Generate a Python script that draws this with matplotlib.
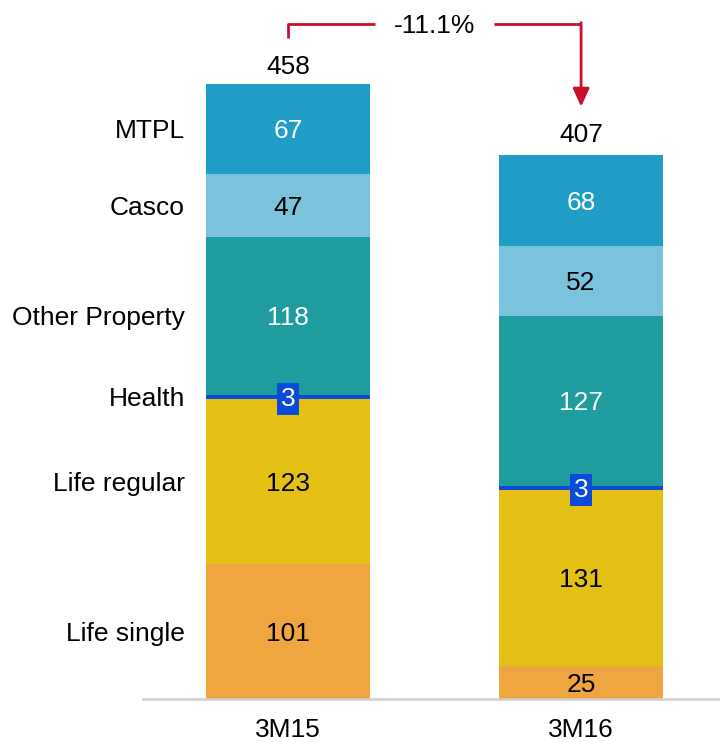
import matplotlib.pyplot as plt

plt.rcParams['font.family'] = ['Liberation Sans', 'DejaVu Sans']

# Dati
periods = ['3M15', '3M16']
segments = ['Life single', 'Life regular', 'Health', 'Other Property', 'Casco', 'MTPL']
values = {
    'Life single': [101, 25],
    'Life regular': [123, 131],
    'Health': [3, 3],
    'Other Property': [118, 127],
    'Casco': [47, 52],
    'MTPL': [67, 68],
}
totals = [458, 407]

colors = {
    'Life single': '#F0A640',
    'Life regular': '#E3C013',
    'Health': '#0A4BD9',
    'Other Property': '#1F9C9E',
    'Casco': '#7BC3DD',
    'MTPL': '#1F9DC7',
}
text_colors = {
    'Life single': 'black',
    'Life regular': 'black',
    'Health': 'white',
    'Other Property': 'white',
    'Casco': 'black',
    'MTPL': 'white',
}

fig = plt.figure(figsize=(7.2, 7.42), dpi=100)
ax = fig.add_axes([143 / 720, 43 / 742, 577 / 720, 699 / 742])

x = [0, 1]
width = 0.56
fs = 19
va = 'center_baseline'
bottoms = [0, 0]
for seg in segments:
    vals = values[seg]
    ax.bar(x, vals, width, bottom=bottoms, color=colors[seg], linewidth=0)
    for i, v in enumerate(vals):
        yc = bottoms[i] + v / 2
        if seg == 'Health':
            ax.text(x[i], yc, str(v), ha='center', va=va, color='white',
                    fontsize=fs, bbox=dict(boxstyle='square,pad=0.15',
                                           fc=colors[seg], ec='none'))
        else:
            ax.text(x[i], yc, str(v), ha='center', va=va,
                    color=text_colors[seg], fontsize=fs)
    # etichetta categoria a sinistra della prima barra
    ax.text(-0.352, bottoms[0] + vals[0] / 2, seg, ha='right', va=va,
            fontsize=fs, clip_on=False)
    bottoms = [b + v for b, v in zip(bottoms, vals)]

# Totali
for i, t in enumerate(totals):
    ax.annotate(str(t), (x[i], t), xytext=(0, 15), textcoords='offset points',
                ha='center', va=va, fontsize=fs)

# Freccia variazione
red = '#C8102E'
change = (totals[1] / totals[0] - 1) * 100
y_top = totals[0] + 46
ax.plot([x[0], x[0], 0.297], [totals[0] + 35, y_top, y_top], color=red, lw=2,
        solid_capstyle='butt')
ax.plot([0.703, x[1]], [y_top, y_top], color=red, lw=2, solid_capstyle='butt')
ax.annotate('', xy=(x[1], totals[1] + 35), xytext=(x[1], y_top + 0.7),
            arrowprops=dict(arrowstyle='-|>,head_length=1.1,head_width=0.5',
                            color=red, lw=2, shrinkA=0, shrinkB=0))
ax.text(0.5, y_top, f'{change:.1f}%', ha='center', va=va, fontsize=fs)

ax.set_xlim(-0.495, 1.474)
ax.set_ylim(0, 699 / 1.34)
ax.set_xticks(x)
ax.set_xticklabels(periods, fontsize=fs)
ax.tick_params(axis='x', length=0, pad=14)
ax.set_yticks([])
for s in ['top', 'right', 'left']:
    ax.spines[s].set_visible(False)
ax.spines['bottom'].set_color('#D0D0D0')
ax.spines['bottom'].set_linewidth(1.8)

fig.savefig('out.png', dpi=100)
